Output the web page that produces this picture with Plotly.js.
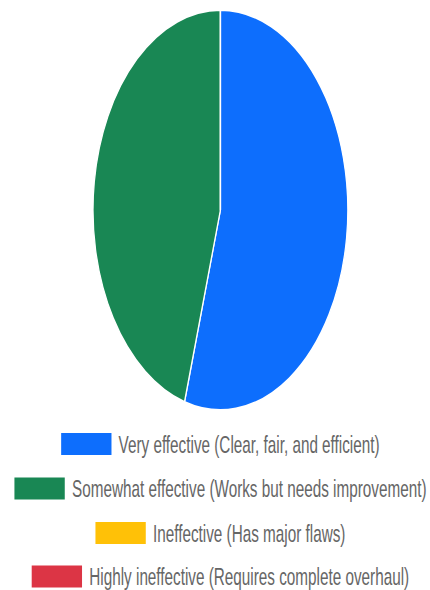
<!DOCTYPE html>
<html><head><meta charset="utf-8">
<script src="https://cdn.plot.ly/plotly-3.0.1.min.js"></script>
<style>
html,body{margin:0;padding:0;overflow:hidden;background:#fff;width:430px;height:590px}
#wrap{width:430px;height:590px;overflow:hidden;position:relative}
#chart{width:675px;height:590px;transform:scaleX(0.637037);transform-origin:0 0;position:absolute;left:0;top:0}
</style></head><body><div id="wrap"><div id="chart"></div></div>
<script>
const labels = [
  'Very effective (Clear, fair, and efficient)',
  'Somewhat effective (Works but needs improvement)',
  'Ineffective (Has major flaws)',
  'Highly ineffective (Requires complete overhaul)'
];
const values = [6, 5, 0, 0];
const colors = ['#0d6efd', '#198754', '#ffc107', '#dc3545'];

const W = 675, H = 590;
const cx = 346;
const rowY = [444, 488.5, 533, 576.5];
const boxW = 79, boxH = 22, gap = 11;
const fontFamily = '"Liberation Sans", Arial, sans-serif';
const fontSize = 24;

const ctx = document.createElement('canvas').getContext('2d');
ctx.font = fontSize + 'px "Liberation Sans"';

const shapes = [], annotations = [];
labels.forEach((lab, i) => {
  const tw = ctx.measureText(lab).width;
  const total = boxW + gap + tw;
  const left = cx - total / 2;
  const y = rowY[i];
  shapes.push({
    type: 'rect', xref: 'paper', yref: 'paper',
    x0: left / W, x1: (left + boxW) / W,
    y0: 1 - (y + boxH / 2) / H, y1: 1 - (y - boxH / 2) / H,
    fillcolor: colors[i], line: {width: 0}
  });
  annotations.push({
    xref: 'paper', yref: 'paper', x: (left + boxW + gap - 2) / W, y: 1 - y / H,
    xanchor: 'left', yanchor: 'middle', showarrow: false, text: lab,
    font: {family: fontFamily, size: fontSize, color: '#666666'}
  });
});

const data = [{
  type: 'pie', labels: labels, values: values, sort: false,
  direction: 'clockwise', rotation: 0,
  marker: {colors: colors, line: {color: '#ffffff', width: 2}},
  textinfo: 'none', hoverinfo: 'none',
  domain: {x: [cx / W - 0.5 * (1 - 2 * Math.abs(0.5 - cx / W)), cx / W + 0.5 * (1 - 2 * Math.abs(0.5 - cx / W))], y: [1 - 410 / H, 1 - 10 / H]}
}];

Plotly.newPlot('chart', data, {
  width: W, height: H, margin: {l: 0, r: 0, t: 0, b: 0},
  showlegend: false, paper_bgcolor: '#ffffff',
  shapes: shapes, annotations: annotations
}, {displayModeBar: false, staticPlot: true});
</script></body></html>
